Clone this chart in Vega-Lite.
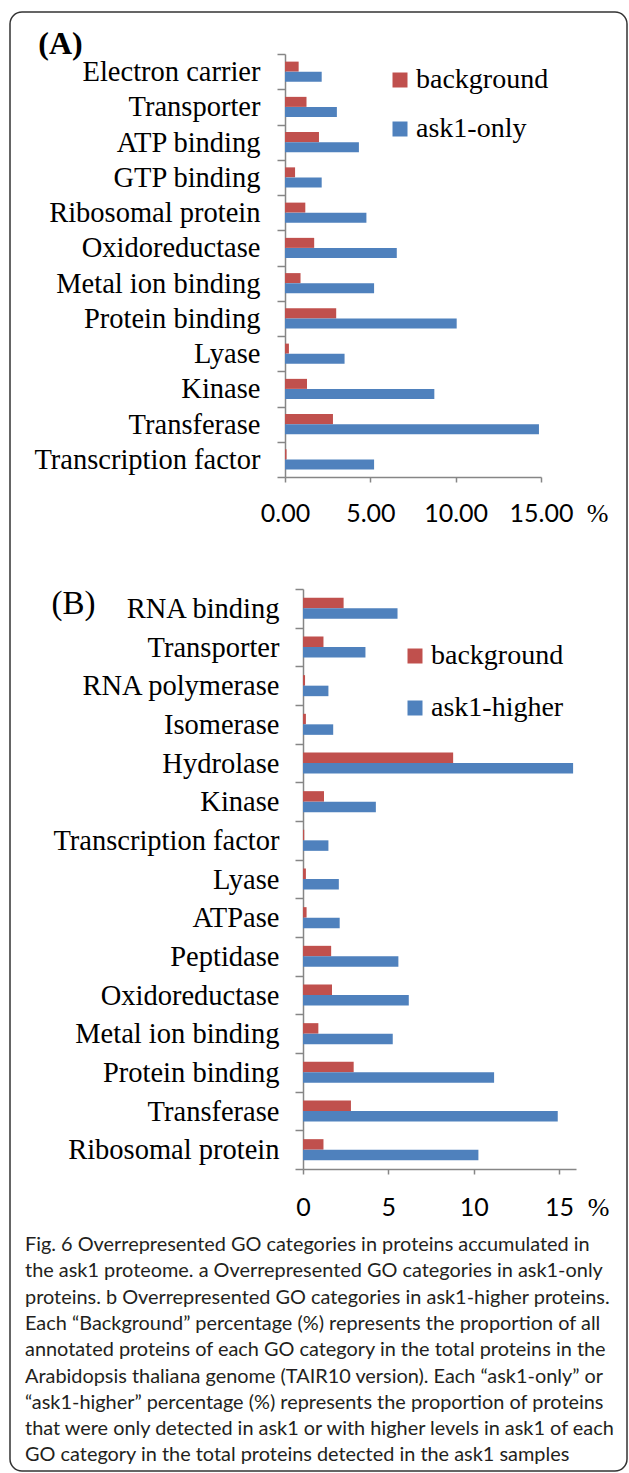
{
  "$schema": "https://vega.github.io/schema/vega-lite/v6.json",
  "width": 617,
  "height": 1459,
  "autosize": {"type": "none"},
  "padding": {"left": 10, "top": 12, "right": 2, "bottom": 2},
  "background": "#ffffff",
  "config": {
    "view": {"stroke": "#333333", "strokeWidth": 1.5, "cornerRadius": 12},
    "axis": {"grid": false, "domainColor": "#868686", "domainWidth": 1.5, "tickColor": "#868686", "tickWidth": 1.5, "labelColor": "#000000", "titleColor": "#000000"}
  },
  "title": {
    "text": [
      "Fig. 6 Overrepresented GO categories in proteins accumulated in",
      "the ask1 proteome. a Overrepresented GO categories in ask1-only",
      "proteins. b Overrepresented GO categories in ask1-higher proteins.",
      "Each “Background” percentage (%) represents the proportion of all",
      "annotated proteins of each GO category in the total proteins in the",
      "Arabidopsis thaliana genome (TAIR10 version). Each “ask1-only” or",
      "“ask1-higher” percentage (%) represents the proportion of proteins",
      "that were only detected in ask1 or with higher levels in ask1 of each",
      "GO category in the total proteins detected in the ask1 samples"
    ],
    "orient": "bottom",
    "anchor": "start",
    "frame": "group",
    "offset": -236,
    "dx": 15,
    "baseline": "top",
    "font": "Lato",
    "fontSize": 19.9,
    "fontWeight": "normal",
    "lineHeight": 26.3,
    "color": "#231f20"
  },
  "datasets": {
    "a": [
      {"category": "Electron carrier", "series": "background", "value": 0.80},
      {"category": "Electron carrier", "series": "ask1-only", "value": 2.15},
      {"category": "Transporter", "series": "background", "value": 1.26},
      {"category": "Transporter", "series": "ask1-only", "value": 3.04},
      {"category": "ATP binding", "series": "background", "value": 1.99},
      {"category": "ATP binding", "series": "ask1-only", "value": 4.33},
      {"category": "GTP binding", "series": "background", "value": 0.59},
      {"category": "GTP binding", "series": "ask1-only", "value": 2.15},
      {"category": "Ribosomal protein", "series": "background", "value": 1.19},
      {"category": "Ribosomal protein", "series": "ask1-only", "value": 4.77},
      {"category": "Oxidoreductase", "series": "background", "value": 1.71},
      {"category": "Oxidoreductase", "series": "ask1-only", "value": 6.55},
      {"category": "Metal ion binding", "series": "background", "value": 0.91},
      {"category": "Metal ion binding", "series": "ask1-only", "value": 5.22},
      {"category": "Protein binding", "series": "background", "value": 3.00},
      {"category": "Protein binding", "series": "ask1-only", "value": 10.06},
      {"category": "Lyase", "series": "background", "value": 0.23},
      {"category": "Lyase", "series": "ask1-only", "value": 3.49},
      {"category": "Kinase", "series": "background", "value": 1.29},
      {"category": "Kinase", "series": "ask1-only", "value": 8.75},
      {"category": "Transferase", "series": "background", "value": 2.81},
      {"category": "Transferase", "series": "ask1-only", "value": 14.88},
      {"category": "Transcription factor", "series": "background", "value": 0.09},
      {"category": "Transcription factor", "series": "ask1-only", "value": 5.22}
    ],
    "b": [
      {"category": "RNA binding", "series": "background", "value": 2.38},
      {"category": "RNA binding", "series": "ask1-higher", "value": 5.54},
      {"category": "Transporter", "series": "background", "value": 1.20},
      {"category": "Transporter", "series": "ask1-higher", "value": 3.66},
      {"category": "RNA polymerase", "series": "background", "value": 0.12},
      {"category": "RNA polymerase", "series": "ask1-higher", "value": 1.49},
      {"category": "Isomerase", "series": "background", "value": 0.17},
      {"category": "Isomerase", "series": "ask1-higher", "value": 1.77},
      {"category": "Hydrolase", "series": "background", "value": 8.80},
      {"category": "Hydrolase", "series": "ask1-higher", "value": 15.83},
      {"category": "Kinase", "series": "background", "value": 1.23},
      {"category": "Kinase", "series": "ask1-higher", "value": 4.27},
      {"category": "Transcription factor", "series": "background", "value": 0.07},
      {"category": "Transcription factor", "series": "ask1-higher", "value": 1.49},
      {"category": "Lyase", "series": "background", "value": 0.17},
      {"category": "Lyase", "series": "ask1-higher", "value": 2.10},
      {"category": "ATPase", "series": "background", "value": 0.21},
      {"category": "ATPase", "series": "ask1-higher", "value": 2.15},
      {"category": "Peptidase", "series": "background", "value": 1.65},
      {"category": "Peptidase", "series": "ask1-higher", "value": 5.59},
      {"category": "Oxidoreductase", "series": "background", "value": 1.70},
      {"category": "Oxidoreductase", "series": "ask1-higher", "value": 6.20},
      {"category": "Metal ion binding", "series": "background", "value": 0.90},
      {"category": "Metal ion binding", "series": "ask1-higher", "value": 5.26},
      {"category": "Protein binding", "series": "background", "value": 2.97},
      {"category": "Protein binding", "series": "ask1-higher", "value": 11.20},
      {"category": "Transferase", "series": "background", "value": 2.81},
      {"category": "Transferase", "series": "ask1-higher", "value": 14.93},
      {"category": "Ribosomal protein", "series": "background", "value": 1.20},
      {"category": "Ribosomal protein", "series": "ask1-higher", "value": 10.28}
    ]
  },
  "layer": [
    {
      "data": {"name": "a"},
      "mark": {"type": "bar"},
      "encoding": {
        "y": {
          "field": "category", "type": "nominal",
          "sort": ["Electron carrier", "Transporter", "ATP binding", "GTP binding", "Ribosomal protein", "Oxidoreductase", "Metal ion binding", "Protein binding", "Lyase", "Kinase", "Transferase", "Transcription factor"],
          "scale": {"range": [42, 465], "paddingInner": 0, "paddingOuter": 0},
          "axis": {
            "orient": "left", "offset": -275, "tickBand": "extent", "tickSize": 8,
            "labelPadding": 17, "labelFont": "Liberation Serif", "labelFontSize": 28.5, "labelLimit": 400,
            "title": "(A)", "titleAngle": 0, "titleX": -225, "titleY": 31, "titleAlign": "center", "titleBaseline": "middle",
            "titleFont": "Liberation Serif", "titleFontSize": 32, "titleFontWeight": "bold"
          }
        },
        "x": {
          "field": "value", "type": "quantitative",
          "scale": {"domain": [0, 15], "range": [275, 531], "nice": false, "zero": true},
          "axis": {
            "orient": "bottom", "offset": -994, "values": [0, 5, 10, 15], "format": ".2f",
            "tickSize": 5, "labelPadding": 31, "labelBaseline": "middle", "labelFlush": false, "labelOverlap": false,
            "labelFont": "Lato", "labelFontSize": 25,
            "title": "%", "titleX": 587, "titleY": 36, "titleAlign": "center", "titleBaseline": "middle",
            "titleFont": "Liberation Serif", "titleFontSize": 26, "titleFontWeight": "normal"
          }
        },
        "yOffset": {"field": "series", "type": "nominal", "sort": ["background", "ask1-only"], "scale": {"paddingInner": 0, "paddingOuter": 0.76}},
        "color": {
          "field": "series", "type": "nominal",
          "scale": {"domain": ["background", "ask1-only"], "range": ["#C0504D", "#4F81BD"]},
          "legend": {
            "orient": "none", "legendX": 376, "legendY": 54, "title": null, "padding": 0,
            "symbolType": "square", "symbolSize": 225, "symbolStrokeWidth": 0,
            "labelFont": "Liberation Serif", "labelFontSize": 28, "labelColor": "#000000", "labelOffset": 2, "labelLimit": 400,
            "rowPadding": 21
          }
        }
      }
    },
    {
      "data": {"name": "b"},
      "mark": {"type": "bar"},
      "encoding": {
        "y": {
          "field": "category", "type": "nominal",
          "sort": ["RNA binding", "Transporter", "RNA polymerase", "Isomerase", "Hydrolase", "Kinase", "Transcription factor", "Lyase", "ATPase", "Peptidase", "Oxidoreductase", "Metal ion binding", "Protein binding", "Transferase", "Ribosomal protein"],
          "scale": {"range": [577, 1157], "paddingInner": 0, "paddingOuter": 0},
          "axis": {
            "orient": "left", "offset": -293, "tickBand": "extent", "tickSize": 8,
            "labelPadding": 16, "labelFont": "Liberation Serif", "labelFontSize": 28.5, "labelLimit": 400,
            "title": "(B)", "titleAngle": 0, "titleX": -230, "titleY": 591, "titleAlign": "center", "titleBaseline": "middle",
            "titleFont": "Liberation Serif", "titleFontSize": 33, "titleFontWeight": "normal"
          }
        },
        "x": {
          "field": "value", "type": "quantitative",
          "scale": {"domain": [0, 16], "range": [293, 566], "nice": false, "zero": true},
          "axis": {
            "orient": "bottom", "offset": -302, "values": [0, 5, 10, 15], "format": "d",
            "tickSize": 5, "labelPadding": 33, "labelBaseline": "middle", "labelFlush": false, "labelOverlap": false,
            "labelFont": "Lato", "labelFontSize": 25,
            "title": "%", "titleX": 588, "titleY": 38, "titleAlign": "center", "titleBaseline": "middle",
            "titleFont": "Liberation Serif", "titleFontSize": 26, "titleFontWeight": "normal"
          }
        },
        "yOffset": {"field": "series", "type": "nominal", "sort": ["background", "ask1-higher"], "scale": {"paddingInner": 0, "paddingOuter": 0.84}},
        "color": {
          "field": "series", "type": "nominal",
          "scale": {"domain": ["background", "ask1-higher"], "range": ["#C0504D", "#4F81BD"]},
          "legend": {
            "orient": "none", "legendX": 391, "legendY": 630, "title": null, "padding": 0,
            "symbolType": "square", "symbolSize": 225, "symbolStrokeWidth": 0,
            "labelFont": "Liberation Serif", "labelFontSize": 28, "labelColor": "#000000", "labelOffset": 2, "labelLimit": 400,
            "rowPadding": 24
          }
        }
      }
    }
  ],
  "resolve": {
    "scale": {"x": "independent", "y": "independent", "color": "independent", "yOffset": "independent"},
    "axis": {"x": "independent", "y": "independent"},
    "legend": {"color": "independent"}
  }
}
